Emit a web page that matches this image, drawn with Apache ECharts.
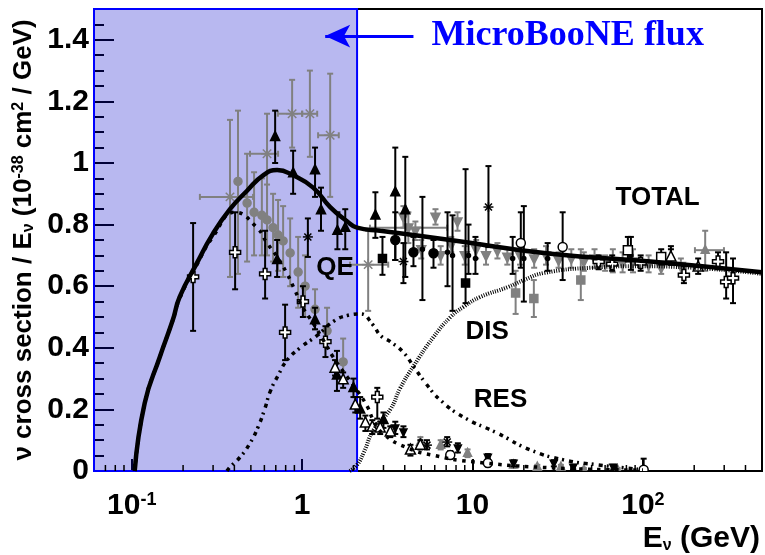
<!DOCTYPE html>
<html>
<head>
<meta charset="utf-8">
<script src="https://cdn.jsdelivr.net/npm/echarts@6.0.0/dist/echarts.min.js"></script>
<style>
  html, body { margin: 0; padding: 0; background: #fff; }
  #main { width: 765px; height: 555px; }
</style>
</head>
<body>
<div id="main"></div>
<script>
// curves: [E (GeV), sigma/E]
const totalCurve = [[0.104,0],[0.119,0.22],[0.146,0.37],[0.174,0.49],[0.191,0.565],[0.241,0.675],[0.299,0.77],[0.377,0.85],[0.475,0.91],[0.59,0.96],[0.713,0.977],[0.885,0.96],[1.16,0.92],[1.46,0.857],[1.84,0.81],[2.1,0.79],[2.87,0.78],[7.4,0.75],[28.8,0.705],[111,0.68],[500,0.645]]
const qeCurve = [[0.104,0],[0.119,0.22],[0.146,0.37],[0.174,0.49],[0.191,0.56],[0.241,0.67],[0.299,0.76],[0.404,0.84],[0.543,0.79],[0.622,0.74],[0.713,0.695],[0.816,0.64],[0.91,0.585],[1.01,0.53],[1.16,0.48],[1.33,0.425],[1.52,0.37],[1.84,0.305],[2.11,0.26],[2.41,0.21],[2.62,0.165],[3.0,0.12],[4.15,0.075],[6,0.05],[10,0.03],[30,0.01],[100,0.003]]
const resCurve = [[0.362,0],[0.377,0.013],[0.432,0.045],[0.494,0.09],[0.551,0.143],[0.606,0.205],[0.648,0.257],[0.722,0.31],[0.816,0.36],[0.973,0.4],[1.225,0.44],[1.52,0.485],[1.84,0.505],[2.2,0.51],[2.6,0.475],[2.88,0.44],[3.29,0.42],[3.93,0.385],[4.5,0.34],[5.29,0.286],[6.48,0.23],[8.85,0.175],[14,0.123],[21.9,0.068],[34.3,0.036],[54.4,0.02],[93.5,0.006]]
const disCurve = [[1.9,0],[2.1,0.02],[2.3,0.06],[2.62,0.133],[3.29,0.2],[3.77,0.27],[4.5,0.34],[5.9,0.435],[7.43,0.5],[8.85,0.533],[11.1,0.565],[16.1,0.597],[20,0.62],[26.2,0.643],[50,0.66],[100,0.665],[500,0.64]]

// data points: [E, y, yLow, yHigh, (eLow, eHigh)]
const grayStarPts = [[0.377,0.89,0.63,1.14,0.251,0.515],[0.622,1.03,0.73,1.16,0.494,0.722],[0.873,1.16,1.05,1.27,0.72,1.0],[1.11,1.16,1.02,1.3,1.0,1.225],[1.46,1.09,0.89,1.29,1.24,1.64],[2.44,0.67,0.52,0.78,1.91,3.2]]
const grayCirclePts = [[0.42,0.94,0.64,1.17],[0.475,0.87,0.68,1.03],[0.522,0.84,0.7,0.97],[0.58,0.83,0.7,0.95],[0.622,0.815,0.7,0.93],[0.675,0.79,0.68,0.9],[0.722,0.766,0.65,0.88],[0.773,0.747,0.63,0.86],[0.85,0.708,0.6,0.82],[0.947,0.646,0.53,0.76],[1.04,0.6,0.5,0.7],[1.19,0.525,0.46,0.59],[1.4,0.455,0.4,0.53],[1.74,0.354,0.285,0.43]]
const grayTriDownPts = [[3.93,0.825,0.79,0.86],[4.2,0.79,0.74,0.84,2.5,7.1],[4.62,0.78,0.75,0.81],[5.0,0.72,0.69,0.75],[6.06,0.825,0.8,0.85],[6.5,0.7,0.67,0.73],[7.5,0.735,0.71,0.76],[8.16,0.81,0.78,0.84],[9,0.7,0.67,0.73],[10.5,0.72,0.69,0.75],[12,0.7,0.67,0.73],[14,0.715,0.69,0.74],[16,0.695,0.67,0.72],[19,0.7,0.67,0.73],[23,0.69,0.66,0.72],[27,0.7,0.67,0.73],[32,0.685,0.66,0.71],[38,0.69,0.66,0.72],[45,0.68,0.65,0.71],[52,0.69,0.66,0.72],[60,0.675,0.65,0.7],[66.6,0.68,0.645,0.72],[76,0.675,0.645,0.71],[87.5,0.68,0.645,0.72],[108,0.67,0.645,0.7],[128,0.66,0.64,0.69],[167,0.665,0.64,0.69]]
const grayTriPts = [[232,0.717,0.65,0.78,202,299],[4.94,0.094,0.08,0.11],[6.5,0.084,0.07,0.1],[9.35,0.058,0.045,0.07],[12.3,0.036,0.025,0.045],[17.4,0.02,0.01,0.03],[24,0.013,0.005,0.02],[33,0.013,0.005,0.02],[45,0.004,0,0.01],[71,0.004,0,0.01]]
const graySquarePts = [[17.9,0.578,0.51,0.65],[22.9,0.56,0.5,0.62],[43.2,0.62,0.555,0.72]]
const blackTriPts = [[0.694,1.085,1.0,1.17],[0.713,0.685,0.63,0.75],[0.885,0.967,0.9,1.04],[1.19,0.977,0.89,1.05],[1.19,0.49,0.46,0.53],[1.29,0.847,0.78,0.92],[1.6,0.31,0.26,0.39],[1.61,0.78,0.72,0.84],[1.79,0.79,0.72,0.85],[2.0,0.27,0.24,0.3],[2.19,0.2,0.17,0.24],[2.69,0.83,0.757,0.905],[3.0,0.166,0.14,0.19],[3.52,0.905,0.685,1.05],[4.03,0.847,0.63,1.02]]
const blackStarPts = [[1.08,0.76,0.695,0.82],[3.93,0.68,0.61,0.74],[12.4,0.857,0.727,0.99],[7.1,0.094,0.08,0.11],[5.4,0.084,0.07,0.1]]
const blackCirclePts = [[3.52,0.75,0.685,0.84],[4.5,0.71,0.665,0.76],[5.9,0.707,0.66,0.75]]
const blackSquarePts = [[2.96,0.69,0.637,0.76],[9.1,0.61,0.545,0.98]]
const blackDotPts = [[5.08,0.72,0.555,0.89],[7.13,0.71,0.6,0.84],[7.63,0.7,0.52,0.83],[9.47,0.7,0.64,0.8],[10.4,0.69,0.64,0.76],[17.2,0.69,0.64,0.76],[20,0.69,0.55,0.86],[27.6,0.69,0.65,0.74],[85,0.7,0.653,0.76],[146,0.69,0.67,0.73]]
const blackTriDownPts = [[3.52,0.14,0.12,0.16],[3.93,0.127,0.11,0.145],[8.2,0.075,0.06,0.09],[12.3,0.045,0.035,0.055],[17.4,0.026,0.015,0.035],[30,0.026,0.015,0.035],[39,0.013,0.005,0.02],[67,0.013,0.005,0.02]]
const openCrossPts = [[0.229,0.63,0.455,0.805],[0.404,0.71,0.59,0.84],[0.606,0.64,0.56,0.78],[0.794,0.45,0.36,0.54],[1.01,0.55,0.5,0.6],[1.37,0.42,0.37,0.47],[2.76,0.24,0.17,0.27],[55,0.68,0.655,0.7],[66,0.672,0.65,0.7],[97,0.675,0.65,0.7],[174,0.636,0.61,0.665],[276,0.68,0.655,0.71],[308,0.614,0.56,0.71],[338,0.626,0.545,0.69]]
const openTriPts = [[1.56,0.334,0.31,0.36],[1.74,0.296,0.27,0.32],[2.05,0.214,0.19,0.24],[2.35,0.156,0.13,0.18],[2.58,0.143,0.12,0.165],[2.87,0.14,0.12,0.16],[3.29,0.127,0.11,0.145],[4.32,0.068,0.05,0.085],[4.94,0.084,0.07,0.1],[146,0.695,0.67,0.72],[211,0.662,0.64,0.69]]
const openCirclePts = [[19.2,0.74,0.66,0.84],[33.8,0.727,0.62,0.84],[7.4,0.052,0.04,0.065],[12.3,0.026,0.015,0.04],[101,0.004,0,0.04]]
const openSquarePts = [[81.6,0.717,0.68,0.76],[128,0.695,0.67,0.72]]

const xMinorTicks = [0.07,0.08,0.09,0.2,0.3,0.4,0.5,0.6,0.7,0.8,0.9,2,3,4,5,6,7,8,9,20,30,40,50,60,70,80,90,200,300,400]
const fluxMax = 2.1

const GRAY = '#808080'
const FONT = 'Liberation Sans'

function marker (shape, cx, cy, s, color, fill) {
  const st = { fill: fill, stroke: color, lineWidth: 1.5 }
  const h = s / 2
  if (shape === 'circle') return { type: 'circle', shape: { cx, cy, r: h }, style: st }
  if (shape === 'square') return { type: 'rect', shape: { x: cx - h, y: cy - h, width: s, height: s }, style: st }
  if (shape === 'tri') return { type: 'polygon', shape: { points: [[cx, cy - s * 0.6], [cx - h, cy + s * 0.4], [cx + h, cy + s * 0.4]] }, style: st }
  if (shape === 'triDown') return { type: 'polygon', shape: { points: [[cx, cy + s * 0.6], [cx - h, cy - s * 0.4], [cx + h, cy - s * 0.4]] }, style: st }
  if (shape === 'plus') {
    const a = s * 0.17
    return { type: 'polygon', shape: { points: [[cx - a, cy - h], [cx + a, cy - h], [cx + a, cy - a], [cx + h, cy - a], [cx + h, cy + a], [cx + a, cy + a], [cx + a, cy + h], [cx - a, cy + h], [cx - a, cy + a], [cx - h, cy + a], [cx - h, cy - a], [cx - a, cy - a]] }, style: st }
  }
  // asterisk
  const d = h * 0.7
  const ls = { stroke: color, lineWidth: 1.5 }
  return {
    type: 'group',
    children: [
      { type: 'line', shape: { x1: cx - h, y1: cy, x2: cx + h, y2: cy }, style: ls },
      { type: 'line', shape: { x1: cx, y1: cy - h, x2: cx, y2: cy + h }, style: ls },
      { type: 'line', shape: { x1: cx - d, y1: cy - d, x2: cx + d, y2: cy + d }, style: ls },
      { type: 'line', shape: { x1: cx - d, y1: cy + d, x2: cx + d, y2: cy - d }, style: ls }
    ]
  }
}

function errRender (shape, color, fill, size) {
  return function (params, api) {
    const x = api.value(0)
    const y = api.value(1)
    const p = api.coord([x, y])
    const lo = api.coord([x, api.value(2)])[1]
    const hi = api.coord([x, api.value(3)])[1]
    const ls = { stroke: color, lineWidth: 2 }
    const c = 3
    const kids = [
      { type: 'line', shape: { x1: p[0], y1: lo, x2: p[0], y2: hi }, style: ls },
      { type: 'line', shape: { x1: p[0] - c, y1: lo, x2: p[0] + c, y2: lo }, style: ls },
      { type: 'line', shape: { x1: p[0] - c, y1: hi, x2: p[0] + c, y2: hi }, style: ls }
    ]
    const xl = api.value(4)
    const xh = api.value(5)
    if (!isNaN(xl) && !isNaN(xh) && xl > 0 && xh > 0) {
      const a = api.coord([xl, y])[0]
      const b = api.coord([xh, y])[0]
      kids.push({ type: 'line', shape: { x1: a, y1: p[1], x2: b, y2: p[1] }, style: ls })
      kids.push({ type: 'line', shape: { x1: a, y1: p[1] - c, x2: a, y2: p[1] + c }, style: ls })
      kids.push({ type: 'line', shape: { x1: b, y1: p[1] - c, x2: b, y2: p[1] + c }, style: ls })
    }
    kids.push(marker(shape, p[0], p[1], size, color, fill))
    return { type: 'group', children: kids }
  }
}

const pointSets = [
  { name: 'grayStar', data: grayStarPts, shape: 'star', color: GRAY, fill: GRAY, size: 12 },
  { name: 'grayTriDown', data: grayTriDownPts, shape: 'triDown', color: GRAY, fill: GRAY, size: 9 },
  { name: 'grayTri', data: grayTriPts, shape: 'tri', color: GRAY, fill: GRAY, size: 8 },
  { name: 'graySquare', data: graySquarePts, shape: 'square', color: GRAY, fill: GRAY, size: 8 },
  { name: 'grayCircle', data: grayCirclePts, shape: 'circle', color: GRAY, fill: GRAY, size: 8 },
  { name: 'blackDot', data: blackDotPts, shape: 'circle', color: '#000', fill: '#000', size: 4 },
  { name: 'blackTriDown', data: blackTriDownPts, shape: 'triDown', color: '#000', fill: '#000', size: 7 },
  { name: 'blackTri', data: blackTriPts, shape: 'tri', color: '#000', fill: '#000', size: 9 },
  { name: 'blackStar', data: blackStarPts, shape: 'star', color: '#000', fill: '#000', size: 10 },
  { name: 'blackCircle', data: blackCirclePts, shape: 'circle', color: '#000', fill: '#000', size: 9 },
  { name: 'blackSquare', data: blackSquarePts, shape: 'square', color: '#000', fill: '#000', size: 8 },
  { name: 'openTri', data: openTriPts, shape: 'tri', color: '#000', fill: '#fff', size: 10 },
  { name: 'openCircle', data: openCirclePts, shape: 'circle', color: '#000', fill: '#fff', size: 9 },
  { name: 'openSquare', data: openSquarePts, shape: 'square', color: '#000', fill: '#fff', size: 9 },
  { name: 'openCross', data: openCrossPts, shape: 'plus', color: '#000', fill: '#fff', size: 11 }
]

function curveLabel (text, coord) {
  return {
    symbol: 'rect',
    symbolSize: 1,
    itemStyle: { color: 'rgba(0,0,0,0)' },
    label: { show: true, position: 'inside', formatter: text, fontSize: 26, fontWeight: 'bold', fontFamily: FONT, color: '#000' },
    data: [{ coord: coord }]
  }
}

function curve (name, data, width, dash, label, labelAt) {
  return {
    name: name,
    type: 'line',
    data: data,
    showSymbol: false,
    smooth: 0.5,
    z: 3,
    lineStyle: { color: '#000', width: width, type: dash, cap: 'butt' },
    markPoint: curveLabel(label, labelAt)
  }
}

const chart = echarts.init(document.getElementById('main'), null, { renderer: 'canvas' })

const series = pointSets.map(s => ({
  name: s.name,
  type: 'custom',
  data: s.data,
  dimensions: ['x', 'y', 'lo', 'hi', 'xl', 'xh'],
  encode: { x: 0, y: 1 },
  renderItem: errRender(s.shape, s.color, s.fill, s.size),
  clip: true,
  z: 2
}))

series.push(curve('DIS', disCurve, 4, [1, 1.4], 'DIS', [12.2, 0.451]))
series.push(curve('RES', resCurve, 3.5, [4, 4, 2, 5], 'RES', [14.6, 0.23]))
series.push(curve('QE', qeCurve, 3.5, [3.5, 5.5], 'QE', [1.56, 0.66]))
series.push(curve('TOTAL', totalCurve, 4.5, 'solid', 'TOTAL', [122, 0.886]))

// minor ticks of the log axis
series.push({
  name: 'minorTicks',
  type: 'custom',
  data: xMinorTicks.map(v => [v]),
  renderItem: function (params, api) {
    const p = api.coord([api.value(0), 0])
    return { type: 'line', shape: { x1: p[0], y1: p[1], x2: p[0], y2: p[1] - 6 }, style: { stroke: '#000', lineWidth: 1.5 } }
  },
  z: 4
})

// MicroBooNE flux band, arrow and caption
series.push({
  name: 'flux',
  type: 'line',
  data: [],
  z: 10,
  markArea: {
    silent: true,
    itemStyle: { color: 'rgba(0,0,200,0.28)', borderColor: '#0000ff', borderWidth: 2 },
    data: [[{ xAxis: 0.06 }, { xAxis: fluxMax }]]
  },
  markLine: {
    silent: true,
    symbol: ['none', 'arrow'],
    symbolSize: [17, 25],
    lineStyle: { color: '#0000ff', width: 3, type: 'solid' },
    label: { show: false },
    data: [[{ coord: [4.5, 1.412] }, { coord: [1.365, 1.412] }]]
  },
  markPoint: {
    symbol: 'rect',
    symbolSize: 1,
    itemStyle: { color: 'rgba(0,0,0,0)' },
    label: { show: true, position: 'inside', formatter: 'MicroBooNE flux', fontSize: 36, fontWeight: 'bold', fontFamily: 'Liberation Serif', color: '#0000ff' },
    data: [{ coord: [36.2, 1.412] }]
  }
})

const bigNum = { fontSize: 30, fontWeight: 'bold', fontFamily: FONT, color: '#000' }
const supNum = { fontSize: 18, fontWeight: 'bold', fontFamily: FONT, color: '#000', verticalAlign: 'top' }

chart.setOption({
  animation: false,
  backgroundColor: '#fff',
  textStyle: { fontFamily: FONT },
  grid: { left: 94, right: 3, top: 9, bottom: 84, show: true, borderColor: '#000', borderWidth: 2, outerBoundsMode: 'none' },
  xAxis: {
    type: 'log',
    logBase: 10,
    min: 0.06,
    max: 500,
    axisLine: { lineStyle: { color: '#000', width: 2 } },
    axisTick: { inside: true, length: 12, lineStyle: { color: '#000', width: 2 } },
    splitLine: { show: false },
    axisLabel: {
      margin: 20,
      showMinLabel: false,
      showMaxLabel: false,
      formatter: function (v) {
        const e = Math.round(Math.log10(v))
        if (e === 0) return '{b|1}'
        if (e === 1) return '{b|10}'
        return '{b|10}{s|' + e + '}'
      },
      rich: { b: bigNum, s: supNum }
    },
    name: '{t|E}{s|ν}{t| (GeV)}',
    nameLocation: 'end',
    nameGap: -2,
    nameTextStyle: {
      align: 'right',
      verticalAlign: 'top',
      padding: [53, 0, 0, 0],
      rich: {
        t: { fontSize: 30, fontWeight: 'bold', fontFamily: FONT, color: '#000' },
        s: { fontSize: 16, fontWeight: 'bold', fontFamily: FONT, color: '#000', verticalAlign: 'bottom' }
      }
    }
  },
  yAxis: {
    type: 'value',
    min: 0,
    max: 1.5,
    interval: 0.2,
    axisLine: { show: true, lineStyle: { color: '#000', width: 2 } },
    axisTick: { show: true, inside: true, length: 20, lineStyle: { color: '#000', width: 2 } },
    minorTick: { show: true, splitNumber: 4, length: 10, lineStyle: { color: '#000', width: 2 } },
    splitLine: { show: false },
    axisLabel: { margin: 5, showMaxLabel: false, fontSize: 30, fontWeight: 'bold', fontFamily: FONT, color: '#000' },
    name: '{t|ν cross section / E}{s|ν}{t| (10}{p|-38}{t| cm}{p|2}{t| / GeV)}',
    nameLocation: 'middle',
    nameGap: 41,
    nameTextStyle: {
      rich: {
        t: { fontSize: 26, fontWeight: 'bold', fontFamily: FONT, color: '#000' },
        s: { fontSize: 16, fontWeight: 'bold', fontFamily: FONT, color: '#000', verticalAlign: 'bottom' },
        p: { fontSize: 16, fontWeight: 'bold', fontFamily: FONT, color: '#000', verticalAlign: 'top' }
      }
    }
  },
  series: series
})
</script>
</body>
</html>
